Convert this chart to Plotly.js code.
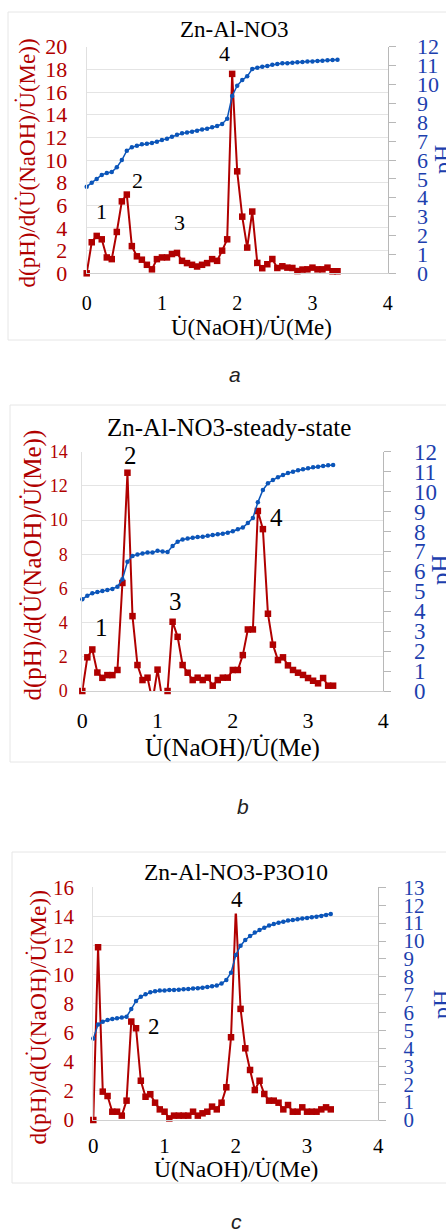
<!DOCTYPE html>
<html><head><meta charset="utf-8">
<script src="https://cdn.plot.ly/plotly-3.0.1.min.js"></script>
<style>html,body{margin:0;padding:0;background:#fff}#chart{width:446px;height:1232px}</style>
</head><body><div id="chart"></div>
<script>
// shared x grid: U(NaOH)/U(Me)
const ratio = [0, 0.067, 0.133, 0.2, 0.267, 0.333, 0.4, 0.467, 0.533, 0.6, 0.667, 0.733, 0.8, 0.867, 0.933, 1.0, 1.067, 1.133, 1.2, 1.267, 1.333, 1.4, 1.467, 1.533, 1.6, 1.667, 1.733, 1.8, 1.867, 1.933, 2.0, 2.067, 2.133, 2.2, 2.267, 2.333, 2.4, 2.467, 2.533, 2.6, 2.667, 2.733, 2.8, 2.867, 2.933, 3.0, 3.067, 3.133, 3.2, 3.267, 3.333];

// panel a: Zn-Al-NO3
const derivA = [0, 2.74, 3.3, 3.0, 1.4, 1.25, 3.65, 6.35, 6.95, 2.4, 1.5, 1.2, 0.75, 0.35, 1.25, 1.4, 1.4, 1.7, 1.8, 1.1, 0.9, 0.75, 0.6, 0.75, 0.9, 1.25, 1.1, 2.0, 3.0, 17.6, 9.0, 5.0, 2.27, 5.45, 0.92, 0.45, 0.8, 1.26, 0.47, 0.62, 0.5, 0.47, 0.2, 0.33, 0.35, 0.5, 0.35, 0.35, 0.5, 0.18, 0.18];
const phA = [4.59, 4.80, 4.99, 5.21, 5.31, 5.36, 5.61, 6.0, 6.49, 6.67, 6.76, 6.83, 6.86, 6.90, 6.97, 7.06, 7.13, 7.23, 7.34, 7.41, 7.46, 7.50, 7.55, 7.61, 7.66, 7.73, 7.80, 7.91, 8.19, 9.39, 9.93, 10.23, 10.43, 10.82, 10.89, 10.94, 10.98, 11.05, 11.08, 11.12, 11.13, 11.15, 11.17, 11.19, 11.21, 11.22, 11.24, 11.26, 11.28, 11.29, 11.31];

// panel b: Zn-Al-NO3-steady-state
const derivB = [0, 1.97, 2.43, 1.08, 0.77, 0.93, 0.93, 1.23, 6.32, 12.77, 4.38, 1.52, 0.64, 0.78, -0.6, 1.25, -0.6, 0, 4.05, 3.17, 1.52, 1.07, 0.64, 0.78, 0.64, 0.78, 0.31, 0.64, 0.78, 0.78, 1.23, 1.23, 2.1, 3.6, 3.6, 10.53, 9.47, 4.52, 2.71, 1.81, 1.97, 1.5, 1.23, 1.07, 0.94, 0.76, 0.6, 0.45, 0.76, 0.31, 0.31];
const phB = [4.6, 4.78, 4.9, 4.96, 5.01, 5.07, 5.12, 5.23, 5.6, 6.48, 6.77, 6.85, 6.9, 6.94, 6.94, 7.03, 6.99, 6.97, 7.27, 7.49, 7.6, 7.65, 7.69, 7.72, 7.74, 7.79, 7.82, 7.86, 7.89, 7.94, 8.01, 8.11, 8.2, 8.42, 8.68, 9.46, 10.08, 10.42, 10.58, 10.72, 10.83, 10.93, 11.0, 11.07, 11.12, 11.17, 11.22, 11.25, 11.28, 11.32, 11.33];

// panel c: Zn-Al-NO3-P3O10
const derivC = [0, 11.88, 1.95, 1.65, 0.57, 0.57, 0.3, 1.33, 6.77, 6.31, 2.7, 1.6, 1.77, 1.19, 0.73, 0.57, 0.11, 0.3, 0.3, 0.3, 0.3, 0.57, 0.3, 0.46, 0.57, 0.92, 0.73, 1.19, 2.25, 5.69, 14.5, 7.64, 4.93, 3.44, 2.06, 2.7, 1.79, 1.33, 1.33, 1.19, 0.73, 1.03, 0.57, 0.57, 0.87, 0.57, 0.57, 0.57, 0.73, 0.87, 0.73];
const phC = [4.56, 5.34, 5.49, 5.59, 5.64, 5.68, 5.72, 5.77, 6.2, 6.65, 6.89, 7.02, 7.13, 7.19, 7.23, 7.24, 7.26, 7.26, 7.28, 7.3, 7.32, 7.34, 7.36, 7.39, 7.43, 7.47, 7.52, 7.62, 7.82, 8.23, 9.22, 9.74, 10.06, 10.28, 10.47, 10.61, 10.74, 10.86, 10.95, 11.02, 11.08, 11.14, 11.17, 11.21, 11.25, 11.28, 11.32, 11.36, 11.4, 11.45, 11.51];

const titles = ['Zn-Al-NO3', 'Zn-Al-NO3-steady-state', 'Zn-Al-NO3-P3O10'];
const captions = ['a', 'b', 'c'];
const xTitle = 'U\u0307(NaOH)/U\u0307(Me)';
const yTitle = 'd(pH)/d(U\u0307(NaOH)/U\u0307(Me))';
const y2Title = 'pH';
const peakLabelsA = [['1', 0.2, 5.44], ['2', 0.67, 8.23], ['3', 1.23, 4.47], ['4', 1.83, 19.4]];
const peakLabelsB = [['1', 0.258, 3.7], ['2', 0.634, 13.8], ['3', 1.232, 5.22], ['4', 2.58, 10.16]];
const peakLabelsC = [['2', 0.856, 6.42], ['4', 2.02, 15.13]];

const W = 446, H = 1232;
const RED = '#b00000', BLUE = '#0b55b9', BLUE_T = '#1d3fae';
const SERIF = '"Liberation Serif", "Times New Roman", Times, serif';
const SANS = '"Liberation Sans", Arial, sans-serif';
const px = v => v / W, py = v => 1 - v / H;

const panels = [
  {deriv: derivA, ph: phA, labels: peakLabelsA, x0: 86.7, x1: 387.7, yt: 46.7, yb: 273.3, lr: 20, rr: 12,
   lf: 22, rf: 22, xf: 20, lblf: 22, title: [235, 30, 23], ytit: [27, 163.5, 23], y2tit: [442, 160, 24], xtit: [252, 327, 23],
   cap: [235, 374], frame: [8, 12, 340], lstand: 14, rstand: 17, xstand: 12},
  {deriv: derivB, ph: phB, labels: peakLabelsB, x0: 82.3, x1: 383.3, yt: 451.7, yb: 691, lr: 14, rr: 12,
   lf: 18, rf: 23, xf: 22, lblf: 25, title: [229, 427, 25], ytit: [32, 565.5, 25], y2tit: [440, 570, 25], xtit: [232.5, 748, 25],
   cap: [243, 806], frame: [10, 405, 762], lstand: 10, rstand: 18, xstand: 10},
  {deriv: derivC, ph: phC, labels: peakLabelsC, x0: 93.3, x1: 378.3, yt: 887.3, yb: 1120, lr: 16, rr: 13,
   lf: 21, rf: 21, xf: 21, lblf: 23, title: [236, 871.7, 23.5], ytit: [38, 1017.5, 23.5], y2tit: [441, 1005, 24], xtit: [236, 1169, 23.5],
   cap: [236, 1221], frame: [12, 852, 1183], lstand: 14, rstand: 13, xstand: 7}
];

const data = [], annotations = [], shapes = [];
const layout = {width: W, height: H, margin: {l: 0, r: 0, t: 0, b: 0}, paper_bgcolor: '#fff', plot_bgcolor: 'rgba(0,0,0,0)',
  showlegend: false, font: {family: SERIF, color: '#000'}};

panels.forEach((p, i) => {
  const xa = i === 0 ? 'x' : 'x' + (i + 1);
  const yl = 'y' + (2 * i + 1 === 1 ? '' : 2 * i + 1);
  const yr = 'y' + (2 * i + 2);
  const xkey = 'xaxis' + (i === 0 ? '' : i + 1);
  const ylkey = 'yaxis' + (2 * i + 1 === 1 ? '' : 2 * i + 1);
  const yrkey = 'yaxis' + (2 * i + 2);
  layout[xkey] = {domain: [px(p.x0), px(p.x1)], anchor: yl, range: [0, 4], dtick: 1, tick0: 0, showgrid: false, zeroline: false,
    showline: true, linecolor: '#d0d0d0', linewidth: 1, ticks: '', tickfont: {size: p.xf, family: SERIF, color: '#000'},
    ticklabelstandoff: p.xstand, fixedrange: true};
  layout[ylkey] = {domain: [py(p.yb), py(p.yt)], anchor: xa, range: [0, p.lr], dtick: 2, tick0: 0, showgrid: true, gridcolor: '#e4e4e4',
    zeroline: false, showline: true, linecolor: '#e0e0e0', ticks: '', tickfont: {size: p.lf, family: SERIF, color: RED},
    ticklabelstandoff: p.lstand, fixedrange: true};
  layout[yrkey] = {overlaying: yl, side: 'right', anchor: xa, range: [0, p.rr], dtick: 1, tick0: 0, showgrid: false, zeroline: false,
    showline: true, linecolor: '#b8b8b8', ticks: 'outside', ticklen: 7, tickcolor: '#b8b8b8',
    tickfont: {size: p.rf, family: SERIF, color: BLUE_T}, ticklabelstandoff: p.rstand, fixedrange: true};

  data.push({x: ratio, y: p.deriv, xaxis: xa, yaxis: yl, mode: 'lines', line: {color: RED, width: 2}, hoverinfo: 'skip'});
  data.push({x: ratio, y: p.deriv.map(v => v >= 0 ? v : null), xaxis: xa, yaxis: yl, mode: 'markers', cliponaxis: false,
    marker: {symbol: 'square', size: 6.5, color: RED}, hoverinfo: 'skip'});
  data.push({x: ratio, y: p.ph, xaxis: xa, yaxis: yr, mode: 'lines+markers', cliponaxis: false,
    line: {color: BLUE, width: 1.5}, marker: {symbol: 'circle', size: 4.5, color: BLUE}, hoverinfo: 'skip'});

  p.labels.forEach(l => annotations.push({text: l[0], x: l[1], y: l[2], xref: xa, yref: yl, showarrow: false,
    xanchor: 'center', yanchor: 'middle', font: {size: p.lblf, family: SERIF, color: '#000'},
    bgcolor: (i === 2 && l[0] === '4') ? '#fff' : 'rgba(0,0,0,0)'}));

  annotations.push({text: titles[i], x: px(p.title[0]), y: py(p.title[1]), xref: 'paper', yref: 'paper', showarrow: false,
    xanchor: 'center', yanchor: 'middle', font: {size: p.title[2], family: SERIF, color: '#000'}});
  annotations.push({text: yTitle, x: px(p.ytit[0]), y: py(p.ytit[1]), xref: 'paper', yref: 'paper', showarrow: false, textangle: -90,
    xanchor: 'center', yanchor: 'middle', font: {size: p.ytit[2], family: SERIF, color: RED}});
  annotations.push({text: y2Title, x: px(p.y2tit[0]), y: py(p.y2tit[1]), xref: 'paper', yref: 'paper', showarrow: false, textangle: -90,
    xanchor: 'center', yanchor: 'middle', font: {size: p.y2tit[2], family: SERIF, color: BLUE_T}});
  annotations.push({text: xTitle, x: px(p.xtit[0]), y: py(p.xtit[1]), xref: 'paper', yref: 'paper', showarrow: false,
    xanchor: 'center', yanchor: 'middle', font: {size: p.xtit[2], family: SERIF, color: '#000'}});
  annotations.push({text: captions[i], x: px(p.cap[0]), y: py(p.cap[1]), xref: 'paper', yref: 'paper', showarrow: false,
    xanchor: 'center', yanchor: 'middle', font: {size: 21, family: SANS, color: '#222', style: 'italic'}});

  shapes.push({type: 'rect', xref: 'paper', yref: 'paper', x0: px(p.frame[0]), x1: 1.05, y0: py(p.frame[2]), y1: py(p.frame[1]),
    line: {color: '#e6e6e6', width: 1}, fillcolor: 'rgba(0,0,0,0)', layer: 'below'});
});
layout.annotations = annotations;
layout.shapes = shapes;
Plotly.newPlot('chart', data, layout, {staticPlot: true, displayModeBar: false});
</script></body></html>
